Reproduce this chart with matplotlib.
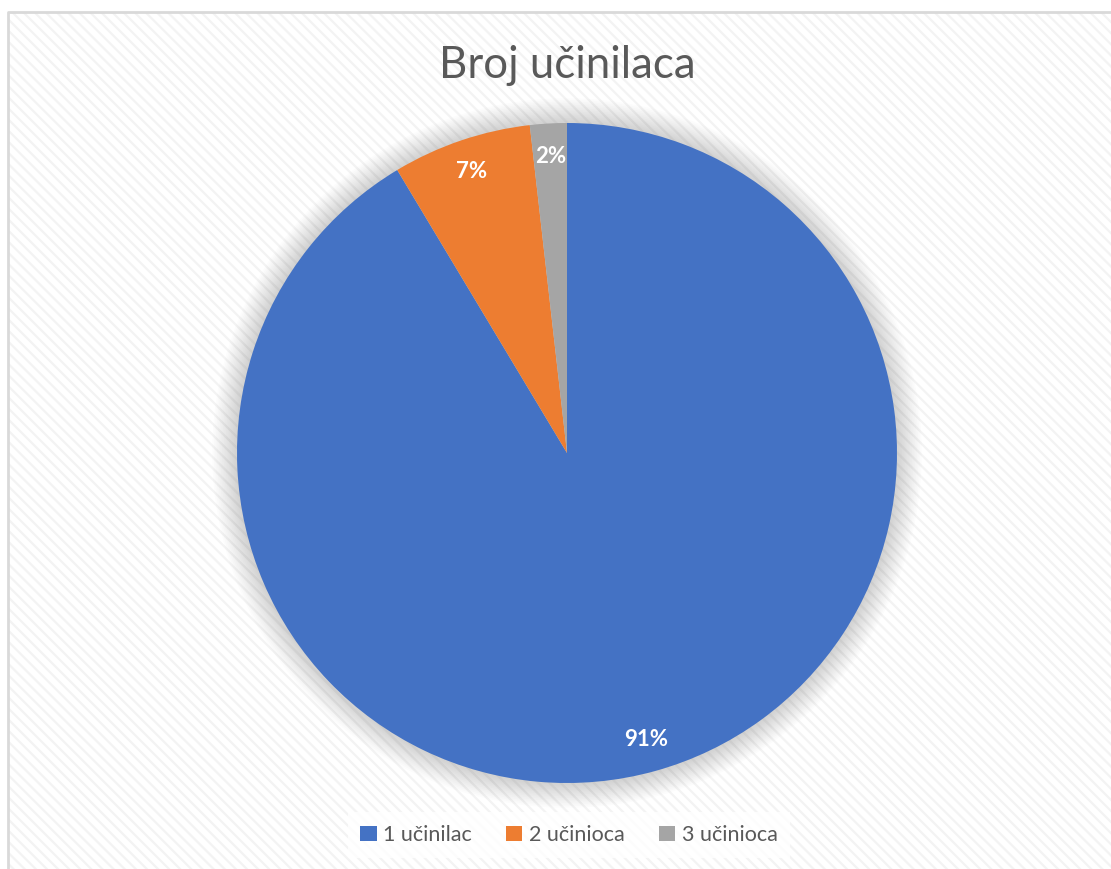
import matplotlib.pyplot as plt
from matplotlib.patches import Rectangle, Circle
from matplotlib.lines import Line2D
import numpy as np

plt.rcParams['font.family'] = ['Lato', 'DejaVu Sans']
plt.rcParams['hatch.color'] = '#f3f3f3'
plt.rcParams['hatch.linewidth'] = 1.6

labels = ['1 učinilac', '2 učinioca', '3 učinioca']
shares = [91.4, 6.8, 1.8]
colors = ['#4472c4', '#ed7d31', '#a5a5a5']
title = 'Broj učinilaca'

W, H = 1111, 869
fig = plt.figure(figsize=(W / 100, H / 100), dpi=100)

# patterned chart area background
fig.patches.append(Rectangle((8 / W, -0.1), 1.2, 1.1 - 12 / H, transform=fig.transFigure,
                             facecolor='white', edgecolor='#f3f3f3', linewidth=0,
                             hatch='\\\\\\', zorder=-5))
# grey border, only top and left edges are inside the picture
fig.lines.append(Line2D([8 / W, 8 / W, 1], [0, 1 - 12 / H, 1 - 12 / H], transform=fig.transFigure,
                        color='#d9d9d9', linewidth=2, zorder=-4))

cx, cy, r = 567, 453, 330
pad = 1.08
ax = fig.add_axes([(cx - r * pad) / W, 1 - (cy + r * pad) / H, 2 * r * pad / W, 2 * r * pad / H])
ax.axis('off')

# soft shadow around the pie
for k in np.linspace(1.075, 1.0, 16):
    ax.add_patch(Circle((0, 0), k, facecolor='#808080', edgecolor='none', alpha=0.025, zorder=1))

wedges, texts, autotexts = ax.pie(shares, colors=colors, startangle=90, counterclock=False,
                                  autopct='%.0f%%', pctdistance=0.9, radius=1,
                                  wedgeprops=dict(linewidth=0, zorder=2),
                                  textprops=dict(color='white', fontsize=16, fontweight='bold'))
for t in autotexts:
    t.set_zorder(3)
ax.set_xlim(-pad, pad)
ax.set_ylim(-pad, pad)

fig.text(cx / W, 1 - 65 / H, title, ha='center', va='center', fontsize=31.5, color='#595959')

leg = fig.legend(wedges, labels, loc='center', bbox_to_anchor=(569 / W, 1 - 835 / H), ncol=3,
                 frameon=True, fontsize=15.5, labelcolor='#595959', handlelength=0.75,
                 handleheight=0.75, handletextpad=0.3, columnspacing=1.6, borderpad=0.6,
                 fancybox=False)
leg.get_frame().set_facecolor('white')
leg.get_frame().set_edgecolor('none')

fig.savefig('out.png', dpi=100)
